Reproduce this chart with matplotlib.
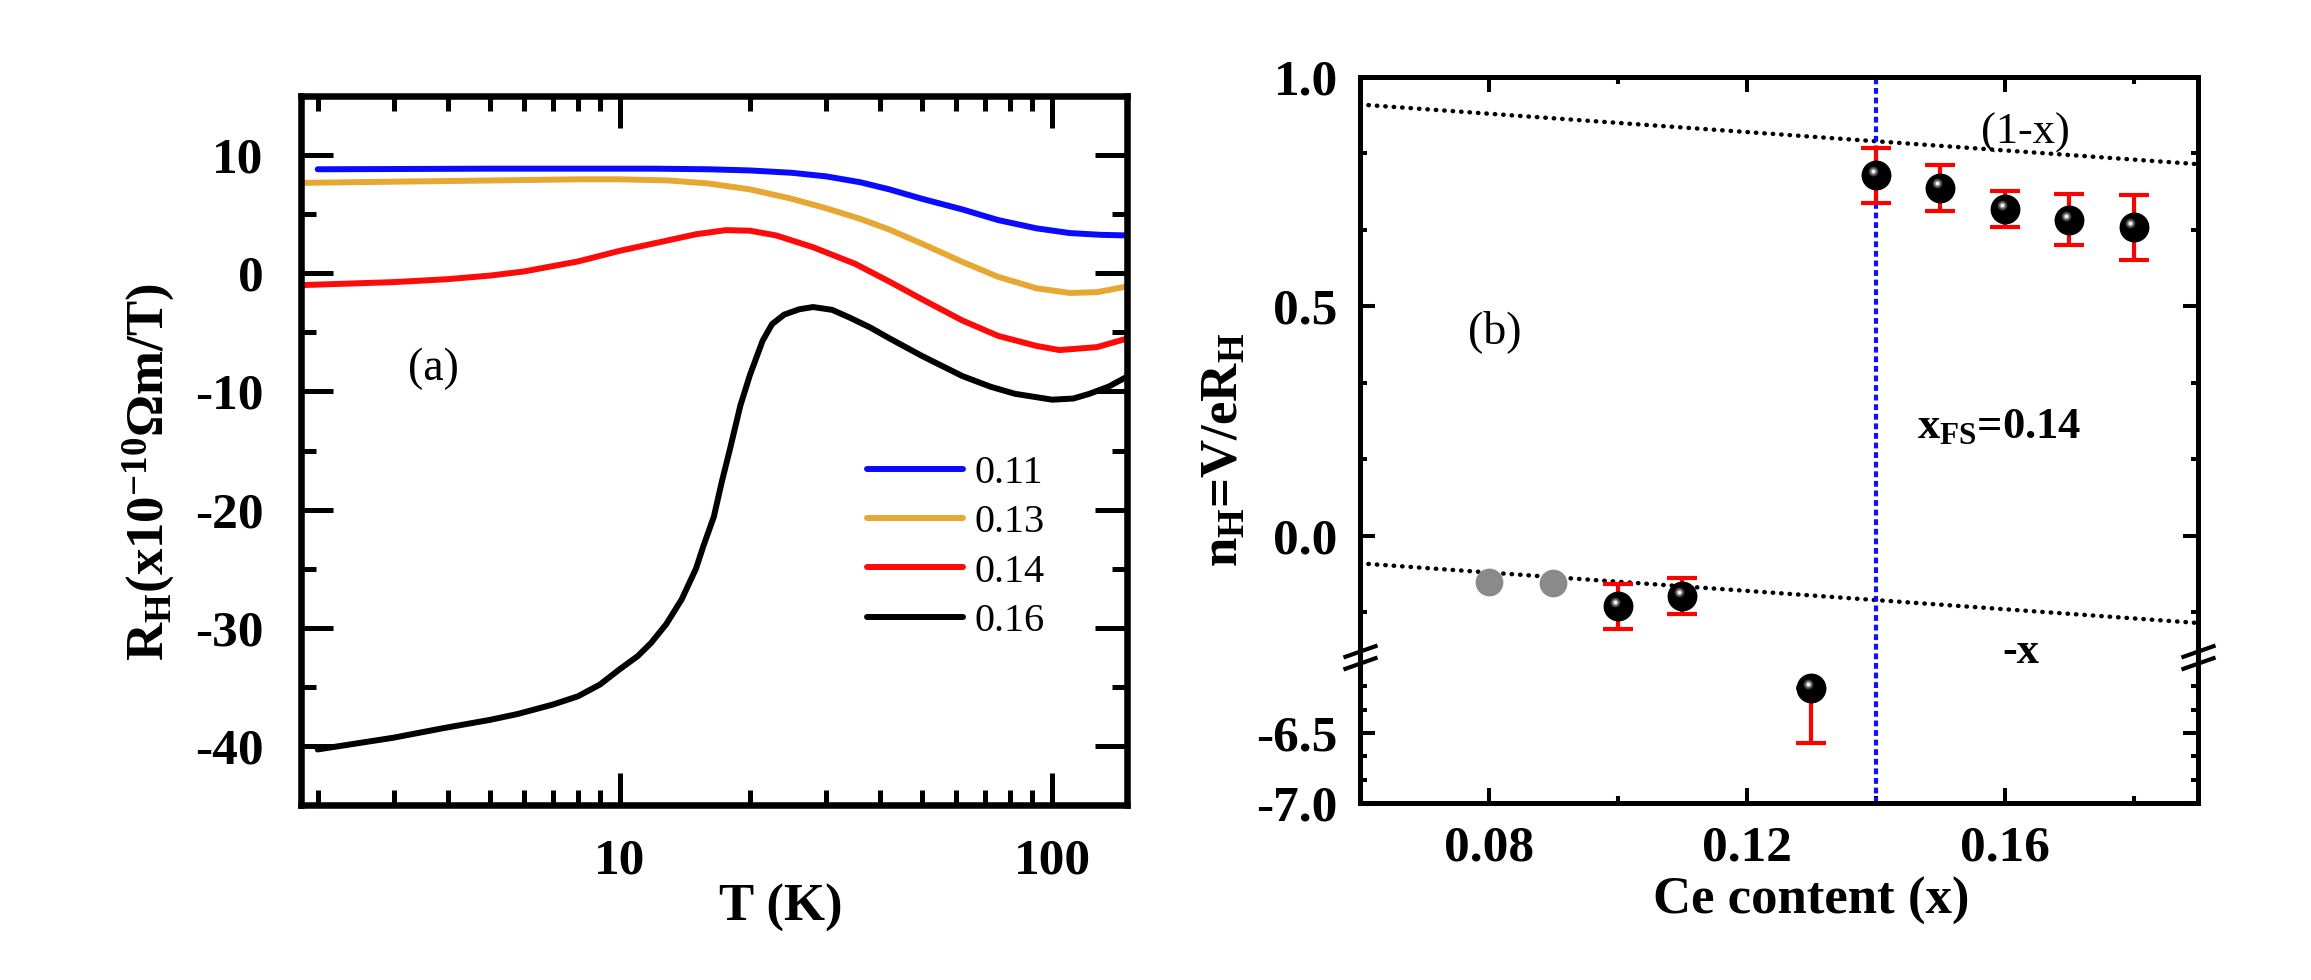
import numpy as np
import matplotlib
matplotlib.use('Agg')
import matplotlib.pyplot as plt
from matplotlib.path import Path
from matplotlib.ticker import FixedLocator, NullFormatter, FormatStrFormatter
from matplotlib.transforms import offset_copy

plt.rcParams['font.family'] = ['Liberation Serif', 'DejaVu Serif']
plt.rcParams['font.weight'] = 'bold'
plt.rcParams['axes.labelweight'] = 'bold'
plt.rcParams['mathtext.fontset'] = 'custom'
plt.rcParams['mathtext.rm'] = 'Liberation Serif'
plt.rcParams['mathtext.bf'] = 'Liberation Serif:bold'
plt.rcParams['mathtext.it'] = 'Liberation Serif:italic'
plt.rcParams['mathtext.default'] = 'bf'
plt.rcParams['axes.unicode_minus'] = False

## panel (a): Hall coefficient vs temperature
T_011 = [2.0, 3, 5, 8, 12, 16, 20, 25, 30, 36, 42, 50, 62, 75, 92, 110, 130, 150]
R_011 = [8.8, 8.82, 8.85, 8.85, 8.85, 8.8, 8.7, 8.5, 8.2, 7.7, 7.1, 6.3, 5.4, 4.5, 3.8, 3.4, 3.25, 3.2]

T_013 = [1.85, 3, 5, 8, 10, 13, 16, 20, 25, 30, 36, 42, 50, 62, 75, 92, 110, 127, 150]
R_013 = [7.65, 7.75, 7.85, 7.95, 7.95, 7.85, 7.6, 7.1, 6.3, 5.5, 4.6, 3.7, 2.5, 0.96, -0.3,
         -1.27, -1.67, -1.6, -1.1]

T_014 = [1.85, 3, 4, 5, 6, 8, 10, 12.8, 15, 17.6, 20, 23, 28, 35, 42, 50, 62, 75, 92, 104, 127, 150]
R_014 = [-1.0, -0.75, -0.5, -0.2, 0.15, 1.0, 1.9, 2.75, 3.3, 3.65, 3.6, 3.2, 2.2, 0.8, -0.7,
         -2.2, -4.0, -5.3, -6.15, -6.5, -6.25, -5.5]

T_016 = [2.0, 3, 3.9, 5, 5.8, 7, 8, 9, 10, 11, 11.8, 12.8, 13.9, 15, 15.6, 16.5, 17.2, 18, 19,
         20, 21.4, 22.5, 24, 26, 28, 31, 34, 38, 42, 50, 62, 72, 82, 100, 112, 122, 135, 150]
R_016 = [-40.3, -39.3, -38.5, -37.8, -37.3, -36.5, -35.8, -34.8, -33.5, -32.4, -31.3, -29.7,
         -27.6, -25.0, -23.1, -20.6, -17.7, -14.8, -11.2, -8.6, -5.7, -4.3, -3.5, -3.05, -2.86,
         -3.1, -3.75, -4.6, -5.5, -7.0, -8.7, -9.6, -10.2, -10.7, -10.6, -10.2, -9.6, -8.7]

curve_T = [T_011, T_013, T_014, T_016]
curve_R = [R_011, R_013, R_014, R_016]
curve_labels = ['0.11', '0.13', '0.14', '0.16']
curve_colors = ['#0a0aff', '#e6a833', '#ff0a0a', '#000000']

## panel (b): Hall number vs Ce content
x_black = [0.10, 0.11, 0.13, 0.14, 0.15, 0.16, 0.17, 0.18]
n_black = [-0.154, -0.131, -6.18, 0.786, 0.759, 0.712, 0.689, 0.672]
err_lo = [0.05, 0.04, 0.39, 0.06, 0.05, 0.04, 0.055, 0.07]
err_hi = [0.05, 0.04, 0.0, 0.06, 0.05, 0.04, 0.055, 0.07]

x_gray = [0.08, 0.09]
n_gray = [-0.100, -0.102]

guide_x = [0.06, 0.19]
guide_1mx = [0.94, 0.81]
guide_mx = [-0.06, -0.19]
x_fs = 0.14


## broken y axis for panel (b): lower part -7..-6, upper part -0.25..1
def fwd(y):
    y = np.asarray(y, float)
    lo = (y + 7.0) * 140.0
    mid = 140.0 + (y + 6.0) * (12.55 / 5.75)
    hi = 152.55 + (y + 0.25) * 459.0
    return np.where(y <= -6.0, lo, np.where(y >= -0.25, hi, mid))


def inv(p):
    p = np.asarray(p, float)
    lo = p / 140.0 - 7.0
    mid = (p - 140.0) * (5.75 / 12.55) - 6.0
    hi = (p - 152.55) / 459.0 - 0.25
    return np.where(p <= 140.0, lo, np.where(p >= 152.55, hi, mid))


fig = plt.figure(figsize=(23.11, 9.8), dpi=100)

## ---------------- panel (a)
axa = fig.add_axes([0.13025, 0.17857, 0.35742, 0.72347])
for T, R, c, lab in zip(curve_T, curve_R, curve_colors, curve_labels):
    axa.plot(T, R, color=c, lw=4.3, label=lab, solid_capstyle='round',
             solid_joinstyle='round')

axa.set_xscale('log')
axa.set_xlim(1.83, 149)
axa.set_ylim(-45, 15)
axa.set_xticks([10, 100])
axa.set_xticklabels(['10', '100'])
axa.xaxis.set_minor_locator(FixedLocator([2, 3, 4, 5, 6, 7, 8, 9, 20, 30, 40, 50, 60, 70, 80, 90]))
axa.xaxis.set_minor_formatter(NullFormatter())
axa.set_yticks([-40, -30, -20, -10, 0, 10])
axa.yaxis.set_minor_locator(FixedLocator([-35, -25, -15, -5, 5]))
axa.tick_params(which='both', direction='in', top=True, right=True, width=3.6, labelsize=37)
axa.tick_params(which='major', length=23)
axa.tick_params(which='minor', length=11)
axa.tick_params(axis='y', pad=27)
axa.tick_params(axis='x', pad=24)
for s in axa.spines.values():
    s.set_linewidth(4.7)

axa.set_xlabel('T (K)', fontsize=38, fontweight='bold')
axa.xaxis.set_label_coords(0.581, -0.145)
axa.xaxis.label.set_va('center')
axa.set_ylabel('R$_{H}$(x10$^{-10}$Ωm/T)', fontsize=38, fontweight='bold')
axa.yaxis.set_label_coords(-0.185, 0.47)
axa.yaxis.label.set_va('center')

axa.legend(loc='upper left', bbox_to_anchor=(0.685, 0.494), frameon=False,
           prop={'weight': 'normal', 'size': 29}, handlelength=2.4,
           handletextpad=0.27, labelspacing=0.3, borderpad=0, borderaxespad=0)
axa.text(0.16, 0.615, '(a)', transform=axa.transAxes, fontsize=33,
         fontweight='normal', ha='center', va='center')

## ---------------- panel (b)
axb = fig.add_axes([0.58849, 0.18061, 0.36261, 0.74082])
axb.set_yscale('function', functions=(fwd, inv))
axb.set_xlim(0.06, 0.19)
axb.set_ylim(-7.0, 1.0)

axb.plot(guide_x, guide_1mx, color='black', lw=3.2, ls=(0, (0.1, 1.8)),
         dash_capstyle='round')
axb.plot(guide_x, guide_mx, color='black', lw=3.2, ls=(0, (0.1, 1.8)),
         dash_capstyle='round')
axb.axvline(x_fs, color='#1010ff', lw=3.0, ls=(0, (1.4, 0.9)))

axb.plot(x_gray, n_gray, 'o', ms=20, color='#8a8a8a', mec='none', zorder=4)
axb.errorbar(x_black, n_black, yerr=[err_lo, err_hi], fmt='none', ecolor='#ff0000',
             elinewidth=3, capsize=10.5, capthick=3, zorder=3)
axb.plot(x_black, n_black, 'o', ms=20.5, mfc='black', mec='black', zorder=4)
# little highlight so the balls look shaded
hl = offset_copy(axb.transData, fig=fig, x=-2.2, y=3.0, units='points')
axb.plot(x_black, n_black, 'o', ms=7, color='#444444', mec='none', transform=hl, zorder=5)
axb.plot(x_black, n_black, 'o', ms=4.5, color='#9a9a9a', mec='none', transform=hl, zorder=5)
axb.plot(x_black, n_black, 'o', ms=2.4, color='white', mec='none', transform=hl, zorder=5)

axb.set_yticks([-7.0, -6.5, 0.0, 0.5, 1.0])
axb.yaxis.set_major_formatter(FormatStrFormatter('%.1f'))
axb.yaxis.set_minor_locator(FixedLocator([-6.8333, -6.6667, -6.3333, -6.1667, -0.1667,
                                          0.1667, 0.3333, 0.6667, 0.8333]))
axb.yaxis.set_minor_formatter(NullFormatter())
axb.set_xticks([0.08, 0.12, 0.16])
axb.xaxis.set_major_formatter(FormatStrFormatter('%.2f'))
axb.xaxis.set_minor_locator(FixedLocator([0.10, 0.14, 0.18]))
axb.tick_params(which='both', direction='in', top=True, right=True, width=2.9, labelsize=37)
axb.tick_params(which='major', length=10.8)
axb.tick_params(which='minor', length=5)
axb.tick_params(axis='y', pad=16)
axb.tick_params(axis='x', pad=16)
for s in axb.spines.values():
    s.set_linewidth(3.6)

# axis break marks on both side spines
brk = Path([(-17, 0), (17, 12), (-17, -12), (17, 0)],
           [Path.MOVETO, Path.LINETO, Path.MOVETO, Path.LINETO])
axb.plot([0, 1], [-3.1, -3.1], transform=axb.get_yaxis_transform(), ls='none',
         marker=brk, ms=24.5, mew=3, mec='black', mfc='none', clip_on=False, zorder=6)

axb.set_xlabel('Ce content (x)', fontsize=38, fontweight='bold')
axb.xaxis.set_label_coords(0.538, -0.135)
axb.xaxis.label.set_va('center')
axb.set_ylabel('n$_{H}$=V/eR$_{H}$', fontsize=38, fontweight='bold')
axb.yaxis.set_label_coords(-0.161, 0.486)
axb.yaxis.label.set_va('center')

axb.text(0.161, 0.649, '(b)', transform=axb.transAxes, fontsize=33,
         fontweight='normal', ha='center', va='center')
axb.text(0.794, 0.923, '(1-x)', transform=axb.transAxes, fontsize=32,
         fontweight='normal', ha='center', va='center')
axb.text(0.7625, 0.518, 'x$_{FS}$=0.14', transform=axb.transAxes, fontsize=32,
         ha='center', va='center')
axb.text(0.789, 0.208, '-x', transform=axb.transAxes, fontsize=32,
         ha='center', va='center')

fig.savefig('out.png', dpi=100)
